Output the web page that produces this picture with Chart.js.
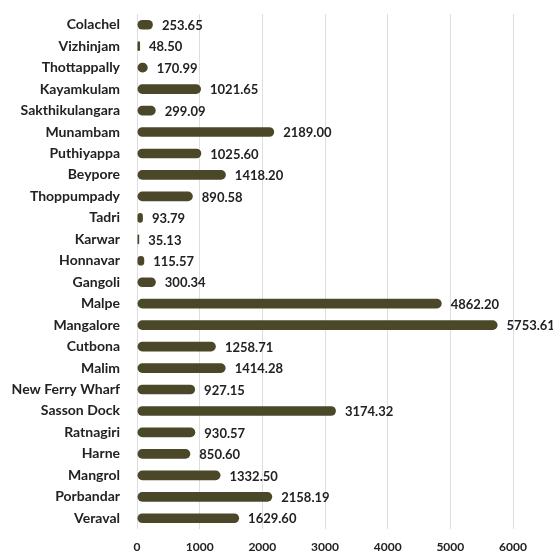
<!DOCTYPE html>
<html>
<head>
<meta charset="utf-8">
<script src="https://cdn.jsdelivr.net/npm/chart.js@4/dist/chart.umd.min.js"></script>
<style>
  html, body { margin: 0; padding: 0; background: #fff; }
  #wrap { width: 553px; height: 556px; }
</style>
</head>
<body>
<div id="wrap"><canvas id="c" width="553" height="556"></canvas></div>
<script>
// port names, top to bottom as shown
const ports = [
  'Colachel', 'Vizhinjam', 'Thottappally', 'Kayamkulam', 'Sakthikulangara',
  'Munambam', 'Puthiyappa', 'Beypore', 'Thoppumpady', 'Tadri', 'Karwar',
  'Honnavar', 'Gangoli', 'Malpe', 'Mangalore', 'Cutbona', 'Malim',
  'New Ferry Wharf', 'Sasson Dock', 'Ratnagiri', 'Harne', 'Mangrol',
  'Porbandar', 'Veraval'
];
const landings = [
  253.65, 48.50, 170.99, 1021.65, 299.09,
  2189.00, 1025.60, 1418.20, 890.58, 93.79, 35.13,
  115.57, 300.34, 4862.20, 5753.61, 1258.71, 1414.28,
  927.15, 3174.32, 930.57, 850.60, 1332.50,
  2158.19, 1629.60
];
const xTicks = [0, 1000, 2000, 3000, 4000, 5000, 6000];

const FONT = 'Lato, "Open Sans", sans-serif';

// value labels to the right of each bar
const valueLabels = {
  id: 'valueLabels',
  afterDatasetsDraw(chart) {
    const ctx = chart.ctx;
    const meta = chart.getDatasetMeta(0);
    ctx.save();
    ctx.font = 'bold 13px ' + FONT;
    ctx.fillStyle = '#222';
    ctx.textAlign = 'left';
    ctx.textBaseline = 'middle';
    meta.data.forEach((bar, i) => {
      ctx.fillText(landings[i].toFixed(2), bar.x + 9, bar.y + 1);
    });
    ctx.restore();
  }
};

new Chart(document.getElementById('c').getContext('2d'), {
  type: 'bar',
  data: {
    labels: ports,
    datasets: [{
      data: landings,
      backgroundColor: '#4a4829',
      borderWidth: 0,
      borderRadius: 5,
      borderSkipped: false,
      barPercentage: 0.45,
      categoryPercentage: 1
    }]
  },
  options: {
    indexAxis: 'y',
    responsive: false,
    animation: false,
    layout: { padding: { top: 14, right: 40, bottom: 0, left: 0 } },
    plugins: {
      legend: { display: false },
      tooltip: { enabled: false }
    },
    scales: {
      x: {
        min: 0,
        max: 6000,
        afterBuildTicks: s => { s.ticks = xTicks.map(v => ({ value: v })); },
        afterFit: s => { s.height = 27; s.paddingLeft = 0; s.paddingRight = 0; },
        grid: { color: '#dedede', lineWidth: 1, drawTicks: false },
        border: { display: false },
        ticks: {
          padding: 11,
          color: '#222',
          font: { family: FONT, size: 12, weight: 'bold' },
          callback: v => String(v)
        }
      },
      y: {
        afterFit: s => { s.width = 137; s.paddingTop = 0; s.paddingBottom = 0; },
        grid: { display: false, drawTicks: false },
        border: { display: false },
        ticks: {
          padding: 17,
          color: '#222',
          font: { family: FONT, size: 14, weight: 'bold' }
        }
      }
    }
  },
  plugins: [valueLabels]
});
</script>
</body>
</html>
